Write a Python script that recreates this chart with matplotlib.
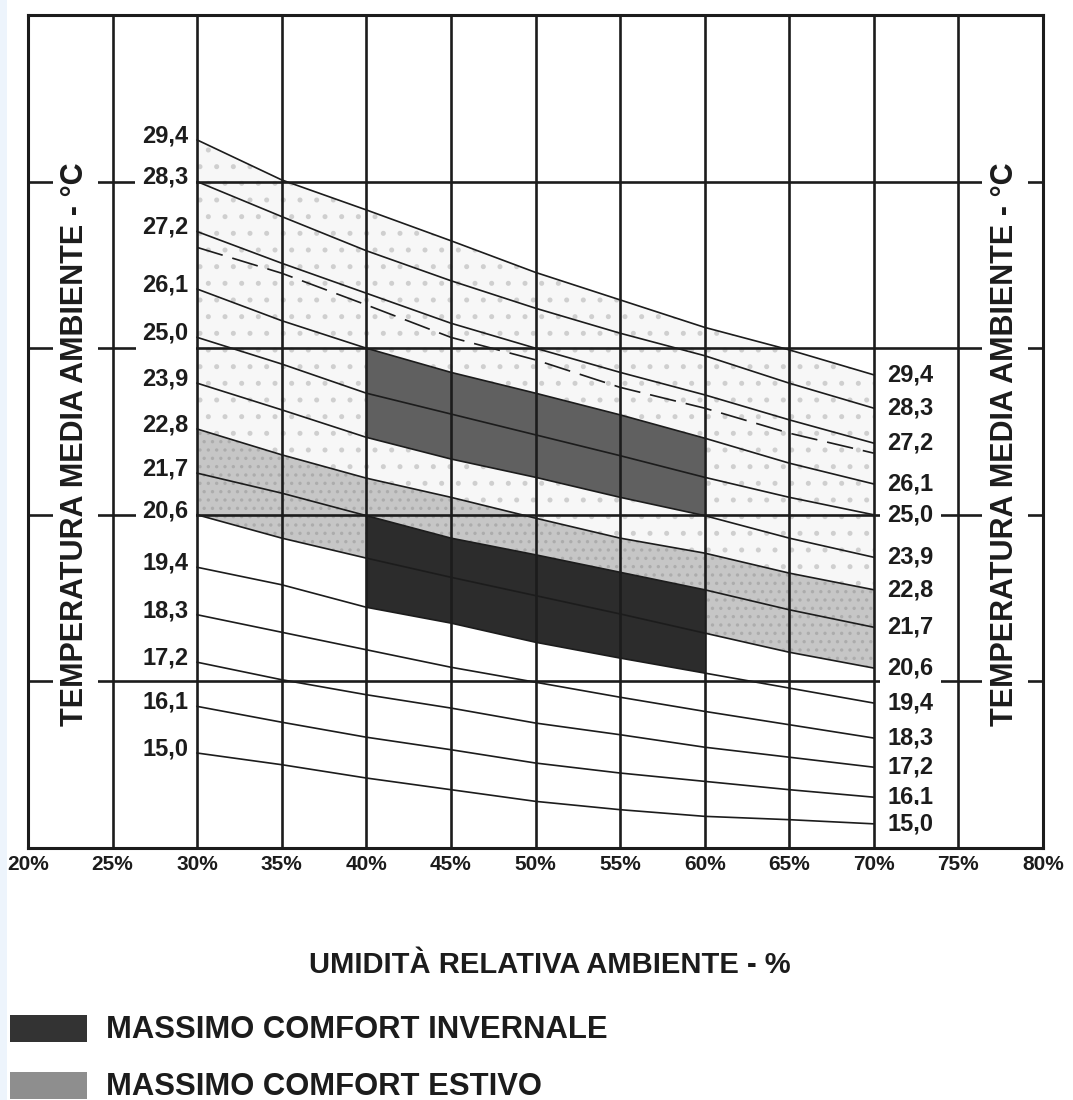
import matplotlib
matplotlib.use("Agg")
import matplotlib.pyplot as plt
from matplotlib.patches import Rectangle

plt.rcParams["font.family"] = ["Liberation Sans", "DejaVu Sans"]
plt.rcParams["hatch.linewidth"] = 1.2

rh = [30, 35, 40, 45, 50, 55, 60, 65, 70]

# curve heights in chart units (box bottom = 0, top = 100, grid rows of 20)
t294 = [85.0, 80.2, 76.6, 72.9, 69.1, 65.8, 62.5, 59.8, 56.8]
t283 = [80.0, 75.8, 71.7, 68.1, 64.8, 61.8, 59.1, 55.8, 52.8]
t272 = [74.0, 70.2, 66.6, 63.0, 60.0, 57.1, 54.4, 51.4, 48.6]
t261 = [67.1, 63.3, 60.0, 57.1, 54.6, 52.0, 49.2, 46.2, 43.7]
t250 = [61.3, 58.1, 54.6, 52.1, 49.6, 47.1, 44.5, 42.1, 40.0]
t239 = [55.8, 52.6, 49.3, 46.7, 44.5, 42.1, 39.9, 37.2, 34.9]
t228 = [50.3, 47.2, 44.4, 42.1, 39.6, 37.2, 35.4, 33.0, 31.0]
t217 = [45.0, 42.6, 39.9, 37.2, 35.2, 33.1, 31.0, 28.6, 26.5]
t206 = [40.0, 37.2, 34.8, 32.5, 30.3, 28.1, 25.8, 23.5, 21.6]
t194 = [33.7, 31.6, 28.9, 27.0, 24.7, 22.8, 21.0, 19.2, 17.4]
t183 = [28.0, 25.9, 23.8, 21.7, 19.9, 18.1, 16.4, 14.8, 13.2]
t172 = [22.3, 20.2, 18.4, 16.8, 15.0, 13.6, 12.1, 10.9, 9.7]
t161 = [17.0, 15.1, 13.3, 11.8, 10.2, 9.0, 8.0, 7.0, 6.1]
t150 = [11.4, 10.0, 8.4, 7.0, 5.6, 4.6, 3.8, 3.4, 2.9]
t_dashed = [72.1, 69.0, 65.2, 61.3, 58.6, 55.3, 52.8, 49.8, 47.4]

curve_labels = ["29,4", "28,3", "27,2", "26,1", "25,0", "23,9", "22,8",
                "21,7", "20,6", "19,4", "18,3", "17,2", "16,1", "15,0"]
curves = [t294, t283, t272, t261, t250, t239, t228,
          t217, t206, t194, t183, t172, t161, t150]

x_ticks = list(range(20, 81, 5))
h_lines = [20, 40, 60, 80]
band_lo, band_hi = 2, 6  # rh index range 40% .. 60%

INK = "#1c1c1c"

fig = plt.figure(figsize=(10.73, 11.0), dpi=100)
ax = fig.add_axes([28 / 1073, 252 / 1100, 1015 / 1073, 833 / 1100])
ax.set_xlim(20, 80)
ax.set_ylim(0, 100)

# faint speckled comfort area
ax.fill_between(rh, t228, t294, facecolor="#f7f7f7", edgecolor="#cfcfcf",
                hatch=".", linewidth=0, zorder=1)
# light summer band
ax.fill_between(rh, t206, t228, facecolor="#c6c6c6", edgecolor="#acacac",
                hatch="..", linewidth=0, zorder=1.2)
# upper medium band
sl = slice(band_lo, band_hi + 1)
ax.fill_between(rh[sl], t239[sl], t261[sl], facecolor="#606060",
                linewidth=0, zorder=1.4)
# lower dark band
ax.fill_between(rh[sl], t194[sl], t217[sl], facecolor="#2c2c2c",
                linewidth=0, zorder=1.4)

for xv in x_ticks[1:-1]:
    z = 4.5 if xv in (rh[0], rh[-1]) else 2
    ax.axvline(xv, color=INK, lw=1.9, zorder=z)
for yv in h_lines:
    ax.axhline(yv, color=INK, lw=1.9, zorder=2)

for vals in curves:
    ax.plot(rh, vals, color=INK, lw=1.2, zorder=3, solid_joinstyle="round")
ax.plot(rh, t_dashed, color=INK, lw=1.2, zorder=3, dashes=(16, 6))

box = dict(boxstyle="square,pad=0.3", fc="white", ec="none")
for lab, vals in zip(curve_labels, curves):
    ax.text(29.5, vals[0] + 0.5, lab, ha="right", va="center", fontsize=17,
            fontweight="bold", color=INK, bbox=box, zorder=4)
    ax.text(70.8, vals[-1], lab, ha="left", va="center", fontsize=17,
            fontweight="bold", color=INK, bbox=box, zorder=4)

ylab = "TEMPERATURA MEDIA AMBIENTE - °C"
for xv in (22.8, 77.75):
    ax.text(xv, 48.5, ylab, rotation=90, ha="center", va="center",
            fontsize=22, fontweight="bold", color=INK,
            bbox=dict(boxstyle="square,pad=0.25", fc="white", ec="none"),
            zorder=4)

ax.set_xticks(x_ticks)
ax.set_xticklabels([f"{v}%" for v in x_ticks], fontsize=15,
                   fontweight="bold", color=INK)
ax.set_yticks([])
ax.tick_params(axis="x", length=0, pad=5)
for sp in ax.spines.values():
    sp.set_linewidth(2.2)
    sp.set_color(INK)
    sp.set_zorder(5)

fig.text(550 / 1073, 1 - 965 / 1100, "UMIDITÀ RELATIVA AMBIENTE - %",
         ha="center", va="center", fontsize=21, fontweight="bold", color=INK)

legend_items = [("MASSIMO COMFORT INVERNALE", "#333333", 1015),
                ("MASSIMO COMFORT ESTIVO", "#8e8e8e", 1072)]
for text, col, top in legend_items:
    fig.patches.append(Rectangle((10 / 1073, 1 - (top + 27) / 1100),
                                 77 / 1073, 27 / 1100, transform=fig.transFigure,
                                 facecolor=col, edgecolor="none"))
    fig.text(106 / 1073, 1 - (top + 15) / 1100, text, ha="left", va="center",
             fontsize=22.3, fontweight="bold", color=INK)

# light scan edge on the left
fig.patches.append(Rectangle((0, 0), 7 / 1073, 1, transform=fig.transFigure,
                             facecolor="#edf4fc", edgecolor="none"))

fig.savefig("out.png", dpi=100)
